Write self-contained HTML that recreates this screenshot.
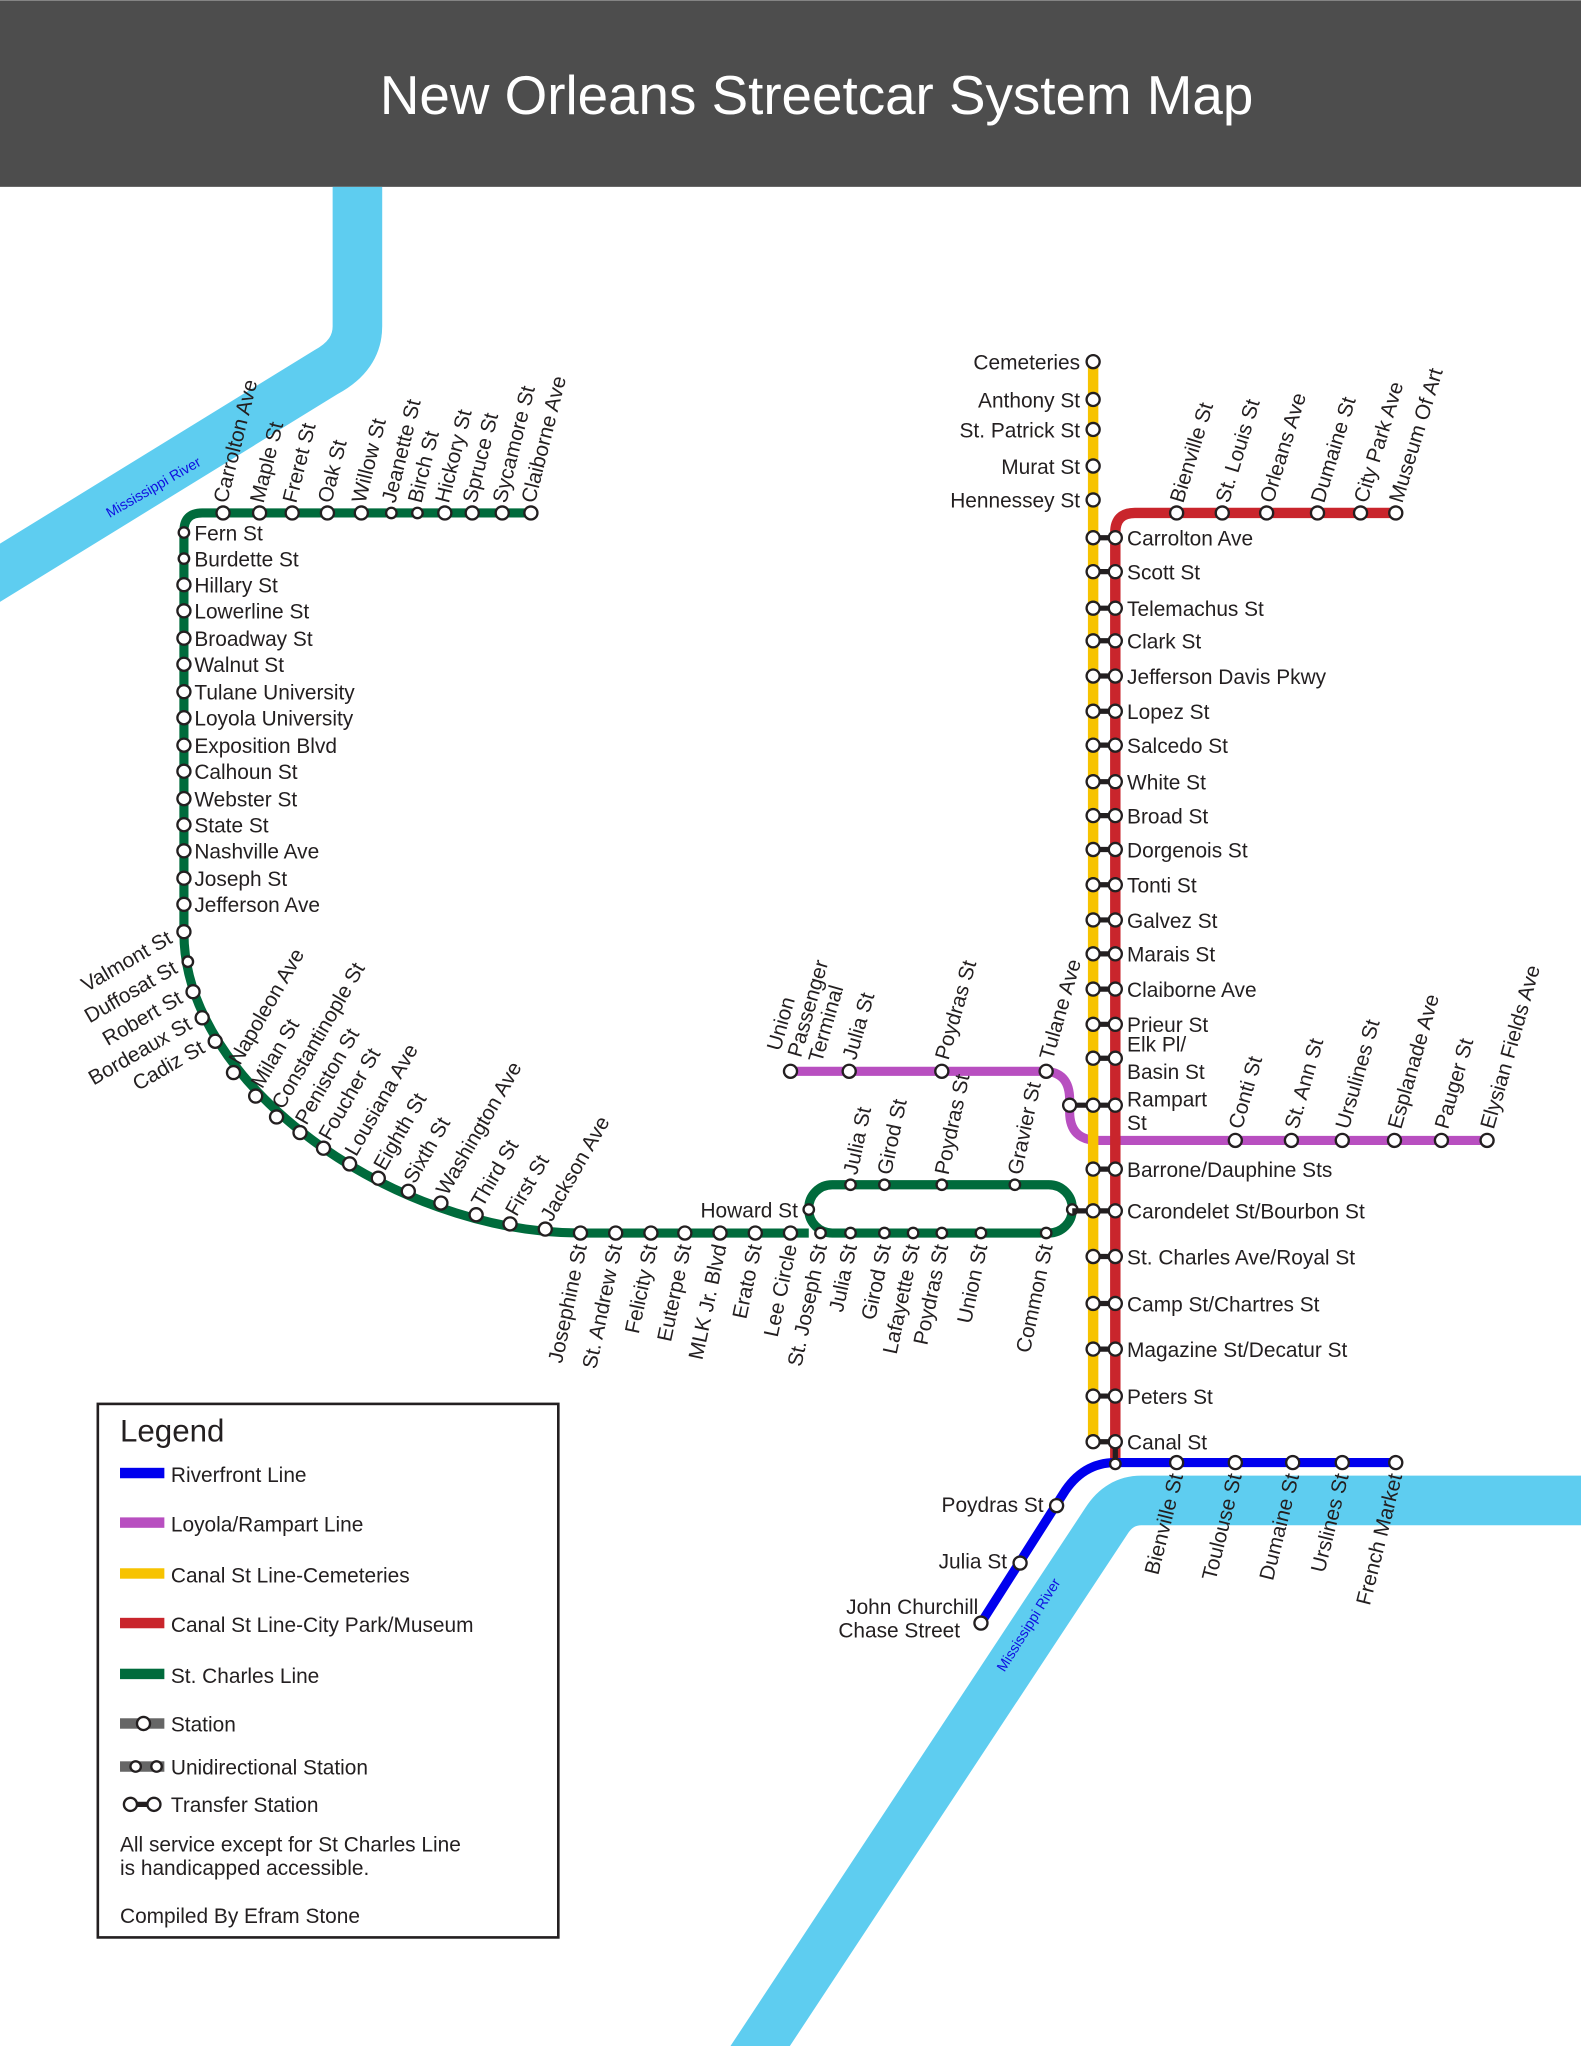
<!DOCTYPE html>
<html><head><meta charset="utf-8"><style>
html,body{margin:0;padding:0;background:#fff}
svg{display:block}
text{font-family:"Liberation Sans",sans-serif;font-size:16px;fill:#231f20}
.s{fill:#fff;stroke:#231f20;stroke-width:1.8}
</style></head><body>
<svg width="1581" height="2046" viewBox="0 0 1212 1568" xmlns="http://www.w3.org/2000/svg">
<rect x="0" y="0" width="1212" height="143" fill="#4d4d4d"/>
<text x="626" y="87" text-anchor="middle" style="font-size:42px;fill:#fff">New Orleans Streetcar System Map</text>

<path d="M274,143 V250 Q274,272 250,285 L-10,445" fill="none" stroke="#5ecdf0" stroke-width="38"/>
<path d="M1220,1150 H875 Q858,1150 848,1166 L575,1580" fill="none" stroke="#5ecdf0" stroke-width="38"/>
<text transform="translate(84,397) rotate(-30)" style="font-size:11px;fill:#1010e0">Mississippi River</text>
<text transform="translate(770,1282) rotate(-58)" style="font-size:11px;fill:#1010e0">Mississippi River</text>

<g fill="none" stroke="#006b3c" stroke-width="7">
<path d="M407,393 H155 Q141,393 141,407 V715 C141,830 300,945 445,945 H620"/>
<rect x="620" y="908" width="202" height="37" rx="18"/>
</g>
<path d="M606,821 H800 Q820,821 820,843 V852 Q820,874 842,874 H1140" fill="none" stroke="#b84fc0" stroke-width="7"/>
<path d="M838,277 V1105" stroke="#f7c300" stroke-width="8"/>
<path d="M1070,393 H870 Q855,393 855,408 V1120" fill="none" stroke="#c9252c" stroke-width="8"/>
<path d="M1070,1121 H855 Q830,1121 815,1145 L752,1244" fill="none" stroke="#0000ee" stroke-width="7"/>

<g>
<circle class="s" cx="171" cy="393" r="5"/><circle class="s" cx="199" cy="393" r="5"/><circle class="s" cx="224" cy="393" r="5"/><circle class="s" cx="251" cy="393" r="5"/><circle class="s" cx="277" cy="393" r="5"/><circle class="s" cx="300" cy="393" r="4"/><circle class="s" cx="320" cy="393" r="4"/><circle class="s" cx="341" cy="393" r="5"/><circle class="s" cx="362" cy="393" r="5"/><circle class="s" cx="385" cy="393" r="5"/><circle class="s" cx="407" cy="393" r="5"/>
<circle class="s" cx="141" cy="408" r="4"/><circle class="s" cx="141" cy="428" r="4"/>
<circle class="s" cx="141" cy="448" r="5"/><circle class="s" cx="141" cy="468" r="5"/><circle class="s" cx="141" cy="489" r="5"/><circle class="s" cx="141" cy="509" r="5"/><circle class="s" cx="141" cy="530" r="5"/><circle class="s" cx="141" cy="550" r="5"/><circle class="s" cx="141" cy="571" r="5"/><circle class="s" cx="141" cy="591" r="5"/><circle class="s" cx="141" cy="612" r="5"/><circle class="s" cx="141" cy="632" r="5"/><circle class="s" cx="141" cy="652" r="5"/><circle class="s" cx="141" cy="673" r="5"/><circle class="s" cx="141" cy="693" r="5"/><circle class="s" cx="141" cy="714" r="5"/>
<circle class="s" cx="144" cy="737" r="4"/><circle class="s" cx="148" cy="760" r="5"/><circle class="s" cx="155" cy="780" r="5"/><circle class="s" cx="165" cy="798" r="5"/><circle class="s" cx="179" cy="822" r="5"/><circle class="s" cx="196" cy="840" r="5"/><circle class="s" cx="212" cy="856" r="5"/><circle class="s" cx="230" cy="868" r="5"/><circle class="s" cx="248" cy="880" r="5"/><circle class="s" cx="268" cy="892" r="5"/><circle class="s" cx="290" cy="903" r="5"/><circle class="s" cx="313" cy="913" r="5"/><circle class="s" cx="338" cy="922" r="5"/><circle class="s" cx="365" cy="931" r="5"/><circle class="s" cx="391" cy="938" r="5"/><circle class="s" cx="418" cy="942" r="5"/><circle class="s" cx="445" cy="945" r="5"/><circle class="s" cx="472" cy="945" r="5"/><circle class="s" cx="499" cy="945" r="5"/><circle class="s" cx="525" cy="945" r="5"/><circle class="s" cx="552" cy="945" r="5"/><circle class="s" cx="579" cy="945" r="5"/><circle class="s" cx="606" cy="945" r="5"/>
<circle class="s" cx="629" cy="945" r="4"/><circle class="s" cx="652" cy="945" r="4"/><circle class="s" cx="678" cy="945" r="4"/><circle class="s" cx="700" cy="945" r="4"/><circle class="s" cx="722" cy="945" r="4"/><circle class="s" cx="752" cy="945" r="4"/><circle class="s" cx="802" cy="945" r="4"/>
<circle class="s" cx="652" cy="908" r="4"/><circle class="s" cx="678" cy="908" r="4"/><circle class="s" cx="722" cy="908" r="4"/><circle class="s" cx="778" cy="908" r="4"/>
<circle class="s" cx="822" cy="927" r="4"/><circle class="s" cx="620" cy="927" r="4"/>
</g>
<g>
<text transform="translate(174,386) rotate(-76)">Carrolton Ave</text>
<text transform="translate(202,386) rotate(-76)">Maple St</text>
<text transform="translate(227,386) rotate(-76)">Freret St</text>
<text transform="translate(254,386) rotate(-76)">Oak St</text>
<text transform="translate(280,386) rotate(-76)">Willow St</text>
<text transform="translate(303,386) rotate(-76)">Jeanette St</text>
<text transform="translate(323,386) rotate(-76)">Birch St</text>
<text transform="translate(344,386) rotate(-76)">Hickory St</text>
<text transform="translate(365,386) rotate(-76)">Spruce St</text>
<text transform="translate(388,386) rotate(-76)">Sycamore St</text>
<text transform="translate(410,386) rotate(-76)">Claiborne Ave</text>
</g>
<g>
<text x="149" y="414">Fern St</text><text x="149" y="434">Burdette St</text><text x="149" y="454">Hillary St</text><text x="149" y="474">Lowerline St</text><text x="149" y="495">Broadway St</text><text x="149" y="515">Walnut St</text><text x="149" y="536">Tulane University</text><text x="149" y="556">Loyola University</text><text x="149" y="577">Exposition Blvd</text><text x="149" y="597">Calhoun St</text><text x="149" y="618">Webster St</text><text x="149" y="638">State St</text><text x="149" y="658">Nashville Ave</text><text x="149" y="679">Joseph St</text><text x="149" y="699">Jefferson Ave</text>
</g>
<g text-anchor="end">
<text transform="translate(133,722) rotate(-30)">Valmont St</text>
<text transform="translate(137,745) rotate(-30)">Duffosat St</text>
<text transform="translate(141,768) rotate(-30)">Robert St</text>
<text transform="translate(148,788) rotate(-30)">Bordeaux St</text>
<text transform="translate(158,806) rotate(-30)">Cadiz St</text>
</g>
<g>
<text transform="translate(184,817) rotate(-60)">Napoleon Ave</text>
<text transform="translate(201,835) rotate(-60)">Milan St</text>
<text transform="translate(217,851) rotate(-60)">Constantinople St</text>
<text transform="translate(235,863) rotate(-60)">Peniston St</text>
<text transform="translate(253,875) rotate(-60)">Foucher St</text>
<text transform="translate(273,887) rotate(-60)">Lousiana Ave</text>
<text transform="translate(295,898) rotate(-60)">Eighth St</text>
<text transform="translate(318,908) rotate(-60)">Sixth St</text>
<text transform="translate(343,917) rotate(-60)">Washington Ave</text>
<text transform="translate(370,926) rotate(-60)">Third St</text>
<text transform="translate(396,933) rotate(-60)">First St</text>
<text transform="translate(423,937) rotate(-60)">Jackson Ave</text>
</g>
<g text-anchor="end">
<text transform="translate(450,955) rotate(-78)">Josephine St</text>
<text transform="translate(477,955) rotate(-78)">St. Andrew St</text>
<text transform="translate(504,955) rotate(-78)">Felicity St</text>
<text transform="translate(530,955) rotate(-78)">Euterpe St</text>
<text transform="translate(557,955) rotate(-78)">MLK Jr. Blvd</text>
<text transform="translate(584,955) rotate(-78)">Erato St</text>
<text transform="translate(611,955) rotate(-78)">Lee Circle</text>
<text transform="translate(634,955) rotate(-78)">St. Joseph St</text>
<text transform="translate(657,955) rotate(-78)">Julia St</text>
<text transform="translate(683,955) rotate(-78)">Girod St</text>
<text transform="translate(705,955) rotate(-78)">Lafayette St</text>
<text transform="translate(727,955) rotate(-78)">Poydras St</text>
<text transform="translate(757,955) rotate(-78)">Union St</text>
<text transform="translate(807,955) rotate(-78)">Common St</text>
</g>
<g>
<text transform="translate(657,901) rotate(-78)">Julia St</text>
<text transform="translate(683,901) rotate(-78)">Girod St</text>
<text transform="translate(727,901) rotate(-78)">Poydras St</text>
<text transform="translate(783,901) rotate(-78)">Gravier St</text>
</g>
<text x="537" y="933">Howard St</text>

<g>
<circle class="s" cx="606" cy="821" r="5"/><circle class="s" cx="651" cy="821" r="5"/><circle class="s" cx="722" cy="821" r="5"/><circle class="s" cx="802" cy="821" r="5"/>
<circle class="s" cx="947" cy="874" r="5"/><circle class="s" cx="990" cy="874" r="5"/><circle class="s" cx="1029" cy="874" r="5"/><circle class="s" cx="1069" cy="874" r="5"/><circle class="s" cx="1105" cy="874" r="5"/><circle class="s" cx="1140" cy="874" r="5"/>
</g>
<g>
<text transform="translate(598,806) rotate(-74)">Union</text>
<text transform="translate(614,811) rotate(-74)">Passenger</text>
<text transform="translate(630,815) rotate(-74)">Terminal</text>
<text transform="translate(656,813) rotate(-74)">Julia St</text>
<text transform="translate(727,813) rotate(-74)">Poydras St</text>
<text transform="translate(807,813) rotate(-74)">Tulane Ave</text>
<text transform="translate(952,866) rotate(-74)">Conti St</text>
<text transform="translate(995,866) rotate(-74)">St. Ann St</text>
<text transform="translate(1034,866) rotate(-74)">Ursulines St</text>
<text transform="translate(1074,866) rotate(-74)">Esplanade Ave</text>
<text transform="translate(1110,866) rotate(-74)">Pauger St</text>
<text transform="translate(1145,866) rotate(-74)">Elysian Fields Ave</text>
</g>

<g>
<circle class="s" cx="838" cy="277" r="5"/><circle class="s" cx="838" cy="306" r="5"/><circle class="s" cx="838" cy="329" r="5"/><circle class="s" cx="838" cy="357" r="5"/><circle class="s" cx="838" cy="383" r="5"/>
</g>
<g text-anchor="end">
<text x="828" y="283">Cemeteries</text><text x="828" y="312">Anthony St</text><text x="828" y="335">St. Patrick St</text><text x="828" y="363">Murat St</text><text x="828" y="389">Hennessey St</text>
</g>
<g stroke="#231f20" stroke-width="4">
<line x1="838" y1="412" x2="855" y2="412"/><line x1="838" y1="438" x2="855" y2="438"/><line x1="838" y1="466" x2="855" y2="466"/><line x1="838" y1="491" x2="855" y2="491"/><line x1="838" y1="518" x2="855" y2="518"/><line x1="838" y1="545" x2="855" y2="545"/><line x1="838" y1="571" x2="855" y2="571"/><line x1="838" y1="599" x2="855" y2="599"/><line x1="838" y1="625" x2="855" y2="625"/><line x1="838" y1="651" x2="855" y2="651"/><line x1="838" y1="678" x2="855" y2="678"/><line x1="838" y1="705" x2="855" y2="705"/><line x1="838" y1="731" x2="855" y2="731"/><line x1="838" y1="758" x2="855" y2="758"/><line x1="838" y1="785" x2="855" y2="785"/><line x1="838" y1="811" x2="855" y2="811"/><line x1="820" y1="847" x2="855" y2="847"/><line x1="838" y1="896" x2="855" y2="896"/><line x1="822" y1="928" x2="855" y2="928"/><line x1="838" y1="963" x2="855" y2="963"/><line x1="838" y1="999" x2="855" y2="999"/><line x1="838" y1="1034" x2="855" y2="1034"/><line x1="838" y1="1070" x2="855" y2="1070"/><line x1="838" y1="1105" x2="855" y2="1105"/><line x1="855" y1="1105" x2="855" y2="1122"/>
</g>
<g>
<circle class="s" cx="838" cy="412" r="5"/><circle class="s" cx="855" cy="412" r="5"/>
<circle class="s" cx="838" cy="438" r="5"/><circle class="s" cx="855" cy="438" r="5"/>
<circle class="s" cx="838" cy="466" r="5"/><circle class="s" cx="855" cy="466" r="5"/>
<circle class="s" cx="838" cy="491" r="5"/><circle class="s" cx="855" cy="491" r="5"/>
<circle class="s" cx="838" cy="518" r="5"/><circle class="s" cx="855" cy="518" r="5"/>
<circle class="s" cx="838" cy="545" r="5"/><circle class="s" cx="855" cy="545" r="5"/>
<circle class="s" cx="838" cy="571" r="5"/><circle class="s" cx="855" cy="571" r="5"/>
<circle class="s" cx="838" cy="599" r="5"/><circle class="s" cx="855" cy="599" r="5"/>
<circle class="s" cx="838" cy="625" r="5"/><circle class="s" cx="855" cy="625" r="5"/>
<circle class="s" cx="838" cy="651" r="5"/><circle class="s" cx="855" cy="651" r="5"/>
<circle class="s" cx="838" cy="678" r="5"/><circle class="s" cx="855" cy="678" r="5"/>
<circle class="s" cx="838" cy="705" r="5"/><circle class="s" cx="855" cy="705" r="5"/>
<circle class="s" cx="838" cy="731" r="5"/><circle class="s" cx="855" cy="731" r="5"/>
<circle class="s" cx="838" cy="758" r="5"/><circle class="s" cx="855" cy="758" r="5"/>
<circle class="s" cx="838" cy="785" r="5"/><circle class="s" cx="855" cy="785" r="5"/>
<circle class="s" cx="838" cy="811" r="5"/><circle class="s" cx="855" cy="811" r="5"/>
<circle class="s" cx="820" cy="847" r="5"/><circle class="s" cx="838" cy="847" r="5"/><circle class="s" cx="855" cy="847" r="5"/>
<circle class="s" cx="838" cy="896" r="5"/><circle class="s" cx="855" cy="896" r="5"/>
<circle class="s" cx="838" cy="928" r="5"/><circle class="s" cx="855" cy="928" r="5"/>
<circle class="s" cx="838" cy="963" r="5"/><circle class="s" cx="855" cy="963" r="5"/>
<circle class="s" cx="838" cy="999" r="5"/><circle class="s" cx="855" cy="999" r="5"/>
<circle class="s" cx="838" cy="1034" r="5"/><circle class="s" cx="855" cy="1034" r="5"/>
<circle class="s" cx="838" cy="1070" r="5"/><circle class="s" cx="855" cy="1070" r="5"/>
<circle class="s" cx="838" cy="1105" r="5"/><circle class="s" cx="855" cy="1105" r="5"/>
<circle class="s" cx="855" cy="1122" r="4"/>
</g>
<g>
<text x="864" y="418">Carrolton Ave</text><text x="864" y="444">Scott St</text><text x="864" y="472">Telemachus St</text><text x="864" y="497">Clark St</text><text x="864" y="524">Jefferson Davis Pkwy</text><text x="864" y="551">Lopez St</text><text x="864" y="577">Salcedo St</text><text x="864" y="605">White St</text><text x="864" y="631">Broad St</text><text x="864" y="657">Dorgenois St</text><text x="864" y="684">Tonti St</text><text x="864" y="711">Galvez St</text><text x="864" y="737">Marais St</text><text x="864" y="764">Claiborne Ave</text><text x="864" y="791">Prieur St</text><text x="864" y="806">Elk Pl/</text><text x="864" y="827">Basin St</text><text x="864" y="848">Rampart</text><text x="864" y="866">St</text><text x="864" y="902">Barrone/Dauphine Sts</text><text x="864" y="934">Carondelet St/Bourbon St</text><text x="864" y="969">St. Charles Ave/Royal St</text><text x="864" y="1005">Camp St/Chartres St</text><text x="864" y="1040">Magazine St/Decatur St</text><text x="864" y="1076">Peters St</text><text x="864" y="1111">Canal St</text>
</g>
<g>
<circle class="s" cx="902" cy="393" r="5"/><circle class="s" cx="937" cy="393" r="5"/><circle class="s" cx="971" cy="393" r="5"/><circle class="s" cx="1010" cy="393" r="5"/><circle class="s" cx="1043" cy="393" r="5"/><circle class="s" cx="1070" cy="393" r="5"/>
</g>
<g>
<text transform="translate(907,386) rotate(-73)">Bienville St</text>
<text transform="translate(942,386) rotate(-73)">St. Louis St</text>
<text transform="translate(976,386) rotate(-73)">Orleans Ave</text>
<text transform="translate(1015,386) rotate(-73)">Dumaine St</text>
<text transform="translate(1048,386) rotate(-73)">City Park  Ave</text>
<text transform="translate(1075,386) rotate(-73)">Museum Of Art</text>
</g>
<g>
<circle class="s" cx="902" cy="1121" r="5"/><circle class="s" cx="947" cy="1121" r="5"/><circle class="s" cx="991" cy="1121" r="5"/><circle class="s" cx="1029" cy="1121" r="5"/><circle class="s" cx="1070" cy="1121" r="5"/>
<circle class="s" cx="810" cy="1154" r="5"/><circle class="s" cx="782" cy="1198" r="5"/><circle class="s" cx="752" cy="1244" r="5"/>
</g>
<g text-anchor="end">
<text transform="translate(907,1131) rotate(-76)">Bienville St</text>
<text transform="translate(952,1131) rotate(-76)">Toulouse St</text>
<text transform="translate(996,1131) rotate(-76)">Dumaine St</text>
<text transform="translate(1034,1131) rotate(-76)">Urslines St</text>
<text transform="translate(1075,1131) rotate(-76)">French Market</text>
<text x="800" y="1159">Poydras St</text>
<text x="772" y="1202">Julia St</text>
<text x="750" y="1237">John Churchill</text>
<text x="736" y="1255">Chase Street</text>
</g>

<rect x="75" y="1076" width="353" height="409" fill="#fff" stroke="#231f20" stroke-width="2"/>
<text x="92" y="1105" style="font-size:24px">Legend</text>
<rect x="92" y="1125" width="34" height="8" fill="#0000ee"/><text x="131" y="1136">Riverfront Line</text>
<rect x="92" y="1163" width="34" height="8" fill="#b84fc0"/><text x="131" y="1174">Loyola/Rampart Line</text>
<rect x="92" y="1202" width="34" height="8" fill="#f7c300"/><text x="131" y="1213">Canal St Line-Cemeteries</text>
<rect x="92" y="1240" width="34" height="8" fill="#c9252c"/><text x="131" y="1251">Canal St Line-City Park/Museum</text>
<rect x="92" y="1279" width="34" height="8" fill="#006b3c"/><text x="131" y="1290">St. Charles Line</text>
<rect x="92" y="1317" width="34" height="8" fill="#666"/><circle class="s" cx="110" cy="1321" r="5"/><text x="131" y="1327">Station</text>
<rect x="92" y="1350" width="34" height="8" fill="#666"/><circle class="s" cx="104" cy="1354" r="4"/><circle class="s" cx="120" cy="1354" r="4"/><text x="131" y="1360">Unidirectional Station</text>
<line x1="100" y1="1383" x2="118" y2="1383" stroke="#231f20" stroke-width="4"/><circle class="s" cx="100" cy="1383" r="5"/><circle class="s" cx="118" cy="1383" r="5"/><text x="131" y="1389">Transfer Station</text>
<text x="92" y="1419">All service except for St Charles Line</text>
<text x="92" y="1437">is handicapped accessible.</text>
<text x="92" y="1474">Compiled By Efram Stone</text>
</svg>
</body></html>
